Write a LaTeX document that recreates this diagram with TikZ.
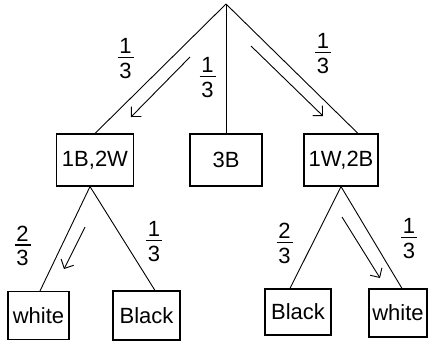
\documentclass[tikz,border=0pt]{standalone}
\usepackage{fontspec}
\setmainfont{Liberation Sans}
\usetikzlibrary{arrows.meta}
\newcommand{\myfr}[2]{\vbox{\offinterlineskip\halign{\hfil##\hfil\cr
  #1\cr\noalign{\kern3pt}
  \rule{16pt}{1.4pt}\cr\noalign{\kern5pt}
  #2\cr}}}
\tikzset{
  box/.style={draw, line width=1.1pt, inner sep=0pt, font=\fontsize{22}{26}\selectfont},
  branch/.style={line width=0.9pt},
  hint/.style={line width=0.9pt, -{Straight Barb[length=7pt,width=14pt,line width=0.9pt]}},
  frlab/.style={inner sep=0pt, font=\fontsize{22}{26}\selectfont}
}
\begin{document}
\begin{tikzpicture}[x=1pt,y=-1pt]
\useasboundingbox (0,0) rectangle (428,341);
\coordinate (top) at (226,4);
\node[box, minimum width=77pt, minimum height=52pt] (n1) at (95,160) {1B,2W};
\node[box, minimum width=72pt, minimum height=52pt] (n2) at (226,160) {3B};
\node[box, minimum width=74pt, minimum height=52pt] (n3) at (341,160) {1W,2B};
\node[box, minimum width=61pt, minimum height=48pt] (w1) at (38.5,315.5) {white};
\node[box, minimum width=67pt, minimum height=49pt] (b1) at (146.5,315.5) {Black};
\node[box, minimum width=66pt, minimum height=46pt] (b2) at (298,312) {Black};
\node[box, minimum width=58pt, minimum height=48pt] (w2) at (398,313) {white};

\draw[branch] (top) -- (n1.north);
\draw[branch] (top) -- (n2.north);
\draw[branch] (top) -- ([xshift=17pt]n3.north);
\draw[branch] ([xshift=-5pt]n1.south) -- ([xshift=1.5pt]w1.north);
\draw[branch] ([xshift=-5pt]n1.south) -- ([xshift=8.5pt]b1.north);
\draw[branch] (n3.south) -- ([xshift=-8pt]b2.north);
\draw[branch] (n3.south) -- ([xshift=4pt]w2.north);

\coordinate (a1s) at (190,57);  \coordinate (a1e) at (131,117);
\coordinate (a2s) at (251,46);  \coordinate (a2e) at (323,116);
\coordinate (a3s) at (85,227);  \coordinate (a3e) at (64,269);
\coordinate (a4s) at (342,217); \coordinate (a4e) at (380,278);
\draw[hint] (a1s) -- (a1e);
\draw[hint] (a2s) -- (a2e);
\draw[hint] (a3s) -- (a3e);
\draw[hint] (a4s) -- (a4e);

\node[frlab] (f1) at (125.5,58.5) {\myfr{1}{3}};
\node[frlab] (f2) at (207.5,77.5) {\myfr{1}{3}};
\node[frlab] (f3) at (323,53.5) {\myfr{1}{3}};
\node[frlab] (f4) at (22.5,246) {\myfr{2}{3}};
\node[frlab] (f5) at (154,241.5) {\myfr{1}{3}};
\node[frlab] (f6) at (284.5,243.5) {\myfr{2}{3}};
\node[frlab] (f7) at (409,238.5) {\myfr{1}{3}};
\end{tikzpicture}
\end{document}
